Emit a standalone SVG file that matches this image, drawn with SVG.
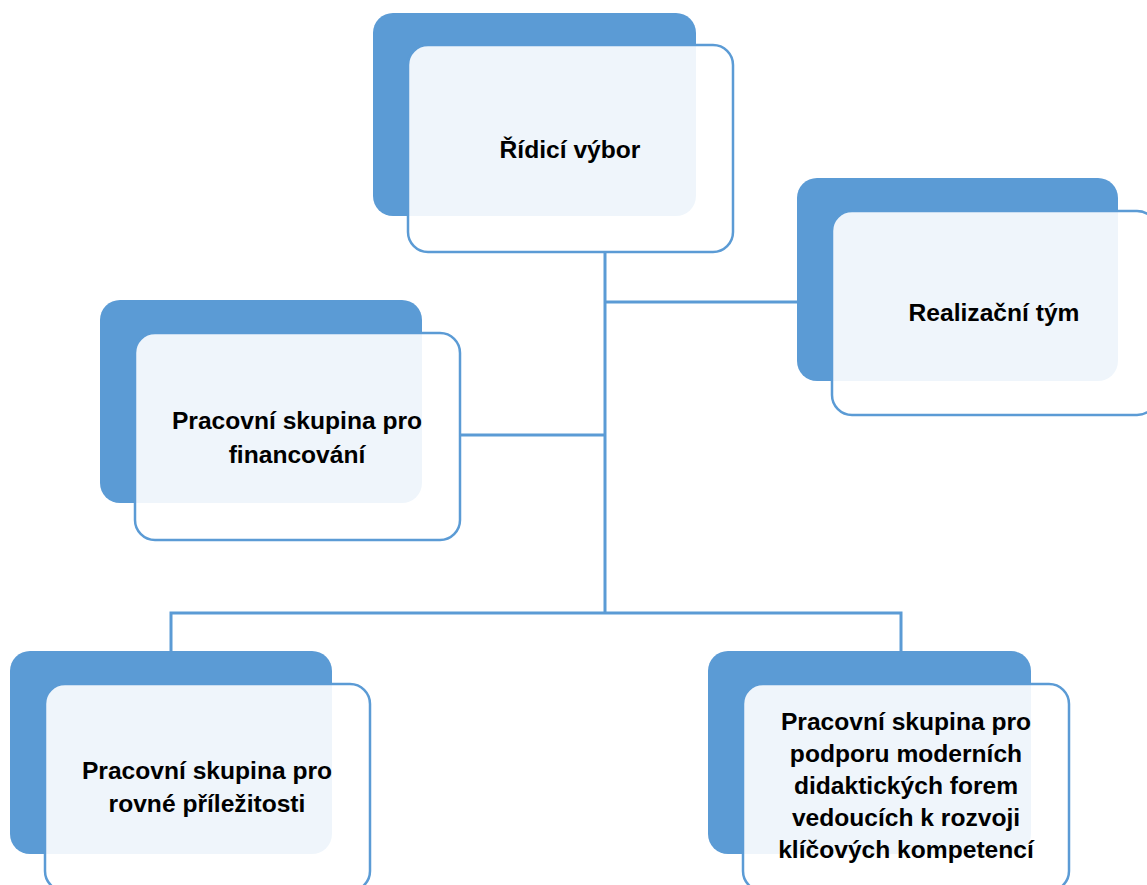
<svg xmlns="http://www.w3.org/2000/svg" width="1147" height="885" viewBox="0 0 1147 885">
<style>
.bg{fill:#5b9bd5}
.fg{fill:#ffffff;fill-opacity:0.9;stroke:#5b9bd5;stroke-width:2.5}
.lbl{font-family:"Liberation Sans",Arial,sans-serif;font-weight:bold;font-size:24.6px;fill:#000;text-anchor:middle}
.con{fill:none;stroke:#5b9bd5;stroke-width:3}
</style>
<rect width="1147" height="885" fill="#fff"/>
<g id="connectors">
<path class="con" d="M605 252 V613"/>
<path class="con" d="M605 302 H797"/>
<path class="con" d="M460 435 H605"/>
<path class="con" d="M171 651 V613 H901 V651"/>
</g>
<g id="ridici-vybor">
<rect class="bg" x="373" y="13" width="323" height="203" rx="20"/>
<rect class="fg" x="408" y="45" width="325" height="207" rx="20"/>
<text class="lbl" x="570" y="158">Řídicí výbor</text>
</g>
<g id="realizacni-tym">
<rect class="bg" x="797" y="178" width="321" height="203" rx="20"/>
<rect class="fg" x="832" y="211" width="325" height="204" rx="20"/>
<text class="lbl" x="994" y="321">Realizační tým</text>
</g>
<g id="financovani">
<rect class="bg" x="100" y="300" width="322" height="203" rx="20"/>
<rect class="fg" x="135" y="333" width="325" height="207" rx="20"/>
<text class="lbl" x="297" y="429">Pracovní skupina pro</text>
<text class="lbl" x="297" y="463">financování</text>
</g>
<g id="rovne-prilezitosti">
<rect class="bg" x="10" y="651" width="322" height="203" rx="20"/>
<rect class="fg" x="45" y="684" width="325" height="207" rx="20"/>
<text class="lbl" x="207" y="779">Pracovní skupina pro</text>
<text class="lbl" x="207" y="812">rovné příležitosti</text>
</g>
<g id="didakticke-formy">
<rect class="bg" x="708" y="651" width="323" height="203" rx="20"/>
<rect class="fg" x="743" y="684" width="326" height="207" rx="20"/>
<text class="lbl" x="906" y="730">Pracovní skupina pro</text>
<text class="lbl" x="906" y="762">podporu moderních</text>
<text class="lbl" x="906" y="794">didaktických forem</text>
<text class="lbl" x="906" y="826">vedoucích k rozvoji</text>
<text class="lbl" x="906" y="858">klíčových kompetencí</text>
</g>
</svg>
